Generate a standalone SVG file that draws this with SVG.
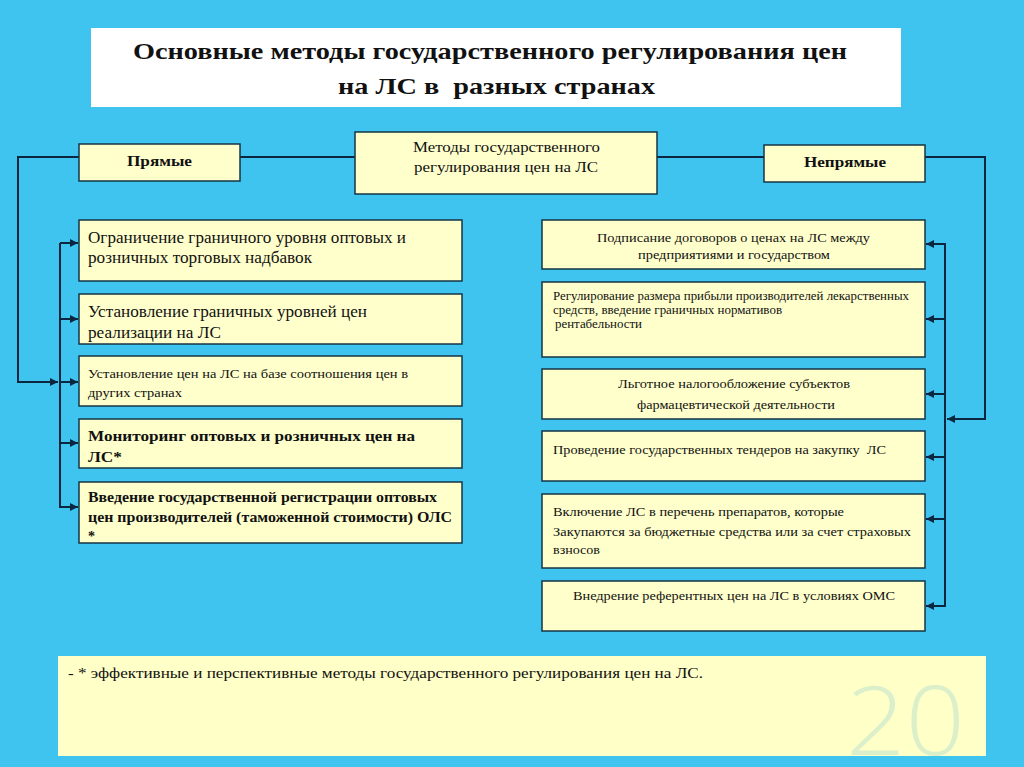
<svg xmlns="http://www.w3.org/2000/svg" width="1024" height="767" viewBox="0 0 1024 767">
<style>
.bg{fill:#3FC3EF}
.box{fill:#FFFFCC;stroke:#163545;stroke-width:1.5}
.t{font-family:"Liberation Serif","Times New Roman",serif;fill:#111}
.b{font-weight:bold}
.c{text-anchor:middle}
.ln{fill:none;stroke:#0B2740;stroke-width:2}
</style>
<defs>
<marker id="ar" viewBox="0 0 10 10" refX="10" refY="5" markerWidth="8" markerHeight="8" markerUnits="userSpaceOnUse" orient="auto">
<path d="M0,0 L10,5 L0,10 z" fill="#0B2740"/>
</marker>
</defs>
<rect class="bg" x="0" y="0" width="1024" height="767"/>

<g id="title">
<rect x="91" y="28" width="810" height="79" fill="#FFFFFF"/>
<text class="t b" x="133" y="59" font-size="23" textLength="714" lengthAdjust="spacingAndGlyphs">Основные методы государственного регулирования цен</text>
<text class="t b" x="338" y="94" font-size="23" textLength="317" lengthAdjust="spacingAndGlyphs" xml:space="preserve">на ЛС в  разных странах</text>
</g>

<g id="connectors">
<line class="ln" x1="240" y1="157" x2="355" y2="157"/>
<line class="ln" x1="657" y1="157" x2="764" y2="157"/>
<polyline class="ln" points="79,157 18,157 18,382 58,382" marker-end="url(#ar)"/>
<line class="ln" x1="60" y1="243" x2="60" y2="508"/>
<line class="ln" x1="60" y1="243" x2="78" y2="243" marker-end="url(#ar)"/>
<line class="ln" x1="60" y1="319" x2="78" y2="319" marker-end="url(#ar)"/>
<line class="ln" x1="60" y1="382" x2="78" y2="382" marker-end="url(#ar)"/>
<line class="ln" x1="60" y1="443" x2="78" y2="443" marker-end="url(#ar)"/>
<line class="ln" x1="60" y1="507" x2="78" y2="507" marker-end="url(#ar)"/>
<polyline class="ln" points="925,157 985,157 985,419 947,419" marker-end="url(#ar)"/>
<line class="ln" x1="945" y1="243" x2="945" y2="607"/>
<line class="ln" x1="945" y1="244" x2="926" y2="244" marker-end="url(#ar)"/>
<line class="ln" x1="945" y1="319" x2="926" y2="319" marker-end="url(#ar)"/>
<line class="ln" x1="945" y1="394" x2="926" y2="394" marker-end="url(#ar)"/>
<line class="ln" x1="945" y1="457" x2="926" y2="457" marker-end="url(#ar)"/>
<line class="ln" x1="945" y1="519" x2="926" y2="519" marker-end="url(#ar)"/>
<line class="ln" x1="945" y1="606" x2="926" y2="606" marker-end="url(#ar)"/>
</g>

<g id="center">
<rect class="box" x="355" y="132" width="302" height="62"/>
<text class="t" x="413" y="152" font-size="14.5" textLength="187" lengthAdjust="spacingAndGlyphs">Методы государственного</text>
<text class="t" x="414" y="172" font-size="14.5" textLength="184" lengthAdjust="spacingAndGlyphs">регулирования цен на ЛС</text>
</g>

<g id="direct">
<rect class="box" x="79" y="144" width="161" height="37"/>
<text class="t b" x="127" y="166" font-size="15" textLength="65" lengthAdjust="spacingAndGlyphs">Прямые</text>
</g>

<g id="indirect">
<rect class="box" x="764" y="145" width="161" height="37"/>
<text class="t b" x="804" y="167" font-size="15" textLength="82" lengthAdjust="spacingAndGlyphs">Непрямые</text>
</g>

<g id="l1">
<rect class="box" x="79" y="220" width="383" height="61"/>
<text class="t" x="88" y="243" font-size="16.5" textLength="318" lengthAdjust="spacingAndGlyphs">Ограничение граничного уровня оптовых и</text>
<text class="t" x="88" y="263" font-size="16.5" textLength="224" lengthAdjust="spacingAndGlyphs">розничных торговых надбавок</text>
</g>
<g id="l2">
<rect class="box" x="79" y="294" width="383" height="50"/>
<text class="t" x="88" y="317" font-size="16.5" textLength="279" lengthAdjust="spacingAndGlyphs">Установление граничных уровней цен</text>
<text class="t" x="88" y="338" font-size="16.5" textLength="133" lengthAdjust="spacingAndGlyphs">реализации на ЛС</text>
</g>
<g id="l3">
<rect class="box" x="79" y="356" width="383" height="50"/>
<text class="t" x="88" y="378" font-size="13" textLength="320" lengthAdjust="spacingAndGlyphs">Установление цен на ЛС на базе соотношения цен в</text>
<text class="t" x="88" y="397" font-size="13" textLength="94" lengthAdjust="spacingAndGlyphs">других странах</text>
</g>
<g id="l4">
<rect class="box" x="79" y="419" width="383" height="49"/>
<text class="t b" x="88" y="441" font-size="15.5" textLength="327" lengthAdjust="spacingAndGlyphs">Мониторинг оптовых и розничных цен на</text>
<text class="t b" x="88" y="462" font-size="15.5" textLength="34" lengthAdjust="spacingAndGlyphs">ЛС*</text>
</g>
<g id="l5">
<rect class="box" x="79" y="482" width="383" height="61"/>
<text class="t b" x="88" y="502" font-size="14" textLength="349" lengthAdjust="spacingAndGlyphs">Введение государственной регистрации оптовых</text>
<text class="t b" x="88" y="522" font-size="14" textLength="364" lengthAdjust="spacingAndGlyphs">цен производителей (таможенной стоимости) ОЛС</text>
<text class="t b" x="88" y="541" font-size="14">*</text>
</g>

<g id="r1">
<rect class="box" x="542" y="220" width="383" height="49"/>
<text class="t" x="597" y="242" font-size="13" textLength="273" lengthAdjust="spacingAndGlyphs">Подписание договоров о ценах на ЛС между</text>
<text class="t" x="638" y="259" font-size="13" textLength="192" lengthAdjust="spacingAndGlyphs">предприятиями и государством</text>
</g>
<g id="r2">
<rect class="box" x="542" y="282" width="383" height="75"/>
<text class="t" x="553" y="300" font-size="11.5" textLength="356" lengthAdjust="spacingAndGlyphs">Регулирование размера прибыли производителей лекарственных</text>
<text class="t" x="553" y="314" font-size="11.5" textLength="229" lengthAdjust="spacingAndGlyphs">средств, введение граничных нормативов</text>
<text class="t" x="555" y="328" font-size="11.5" textLength="87" lengthAdjust="spacingAndGlyphs">рентабельности</text>
</g>
<g id="r3">
<rect class="box" x="542" y="369" width="383" height="50"/>
<text class="t" x="618" y="388" font-size="13" textLength="232" lengthAdjust="spacingAndGlyphs">Льготное налогообложение субъектов</text>
<text class="t" x="637" y="409" font-size="13" textLength="198" lengthAdjust="spacingAndGlyphs">фармацевтической деятельности</text>
</g>
<g id="r4">
<rect class="box" x="542" y="431" width="383" height="50"/>
<text class="t" x="553" y="454" font-size="13" textLength="333" lengthAdjust="spacingAndGlyphs" xml:space="preserve">Проведение государственных тендеров на закупку  ЛС</text>
</g>
<g id="r5">
<rect class="box" x="542" y="494" width="383" height="74"/>
<text class="t" x="553" y="516" font-size="13" textLength="291" lengthAdjust="spacingAndGlyphs">Включение ЛС в перечень препаратов, которые</text>
<text class="t" x="553" y="536" font-size="13" textLength="358" lengthAdjust="spacingAndGlyphs">Закупаются за бюджетные средства или за счет страховых</text>
<text class="t" x="553" y="554" font-size="13" textLength="47" lengthAdjust="spacingAndGlyphs">взносов</text>
</g>
<g id="r6">
<rect class="box" x="542" y="581" width="383" height="50"/>
<text class="t" x="573" y="600" font-size="13.5" textLength="322" lengthAdjust="spacingAndGlyphs">Внедрение референтных цен на ЛС в условиях ОМС</text>
</g>

<g id="footer">
<rect x="58" y="656" width="928" height="100" fill="#FFFFC8"/>
<text x="846" y="755" font-family="'Open Sans','DejaVu Sans',sans-serif" font-weight="300" font-size="96" fill="#DCEFCB" textLength="119" lengthAdjust="spacingAndGlyphs">20</text>
<text class="t" x="68" y="678" font-size="14.5" textLength="635" lengthAdjust="spacingAndGlyphs">- * эффективные и перспективные методы государственного регулирования цен на ЛС.</text>
</g>
</svg>
